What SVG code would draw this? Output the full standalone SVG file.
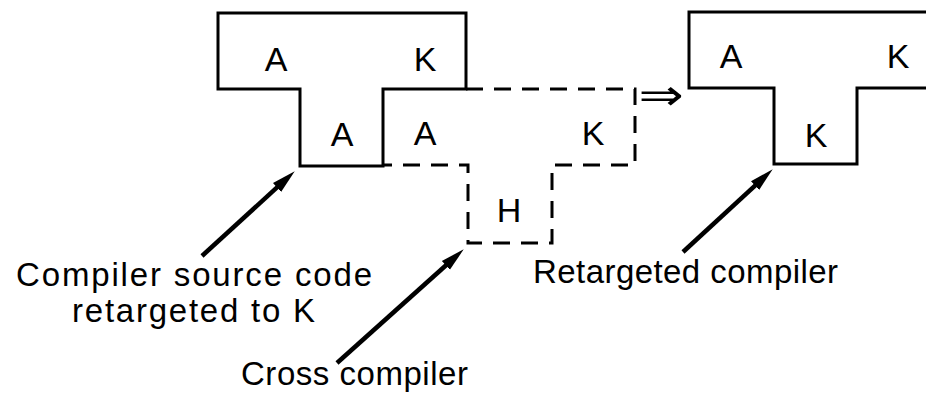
<svg xmlns="http://www.w3.org/2000/svg" width="926" height="396" viewBox="0 0 926 396">
  <defs>
    <style>
      .solid { fill: none; stroke: #000; stroke-width: 3; stroke-linejoin: miter; }
      .dash { fill: none; stroke: #000; stroke-width: 3; stroke-dasharray: 17 11; }
      .lbl { font-family: "Liberation Sans", Arial, Helvetica, sans-serif; font-size: 34px; fill: #000; text-anchor: middle; }
      .cap { font-family: "Liberation Sans", Arial, Helvetica, sans-serif; font-size: 33px; fill: #000; }
      .arrow { stroke: #000; stroke-width: 4.5; fill: none; marker-end: url(#head); }
    </style>
    <marker id="head" markerUnits="userSpaceOnUse" markerWidth="26" markerHeight="14" refX="10" refY="7" orient="auto">
      <path d="M0,1 L24,7 L0,13 Z" fill="#000"/>
    </marker>
  </defs>
  <rect width="926" height="396" fill="#fff"/>

  <g id="source-compiler">
    <path class="solid" d="M218,13 H466 V89 H383 V166 H300 V89 H218 Z"/>
    <text class="lbl" x="276" y="71">A</text>
    <text class="lbl" x="425" y="71">K</text>
    <text class="lbl" x="342" y="146">A</text>
  </g>

  <g id="cross-compiler">
    <path class="dash" d="M466,89 H635 V165 H552 V243 H468 V165 H383"/>
    <text class="lbl" x="425" y="145">A</text>
    <text class="lbl" x="593" y="145">K</text>
    <text class="lbl" x="509" y="222">H</text>
  </g>

  <g id="implies">
    <text transform="translate(661,97) scale(1.5,1.2)" x="0" y="11" font-family="DejaVu Sans, sans-serif" font-size="36" text-anchor="middle">⇒</text>
  </g>

  <g id="retargeted-compiler">
    <path class="solid" d="M932,12 H689 V88 H774 V164 H857 V88 H932"/>
    <text class="lbl" x="731" y="68">A</text>
    <text class="lbl" x="898" y="68">K</text>
    <text class="lbl" x="816" y="147">K</text>
  </g>

  <g id="captions">
    <text class="cap" x="16" y="286" textLength="356" lengthAdjust="spacing">Compiler source code</text>
    <text class="cap" x="72" y="322" textLength="243" lengthAdjust="spacing">retargeted to K</text>
    <text class="cap" x="241" y="385" textLength="227" lengthAdjust="spacing">Cross compiler</text>
    <text class="cap" x="533" y="283" textLength="305" lengthAdjust="spacing">Retargeted compiler</text>
  </g>

  <g id="connectors">
    <line class="arrow" x1="202" y1="256" x2="284.4" y2="180.7"/>
    <line class="arrow" x1="337" y1="363" x2="453.3" y2="258.7"/>
    <line class="arrow" x1="683" y1="252" x2="762.4" y2="178.8"/>
  </g>
</svg>
